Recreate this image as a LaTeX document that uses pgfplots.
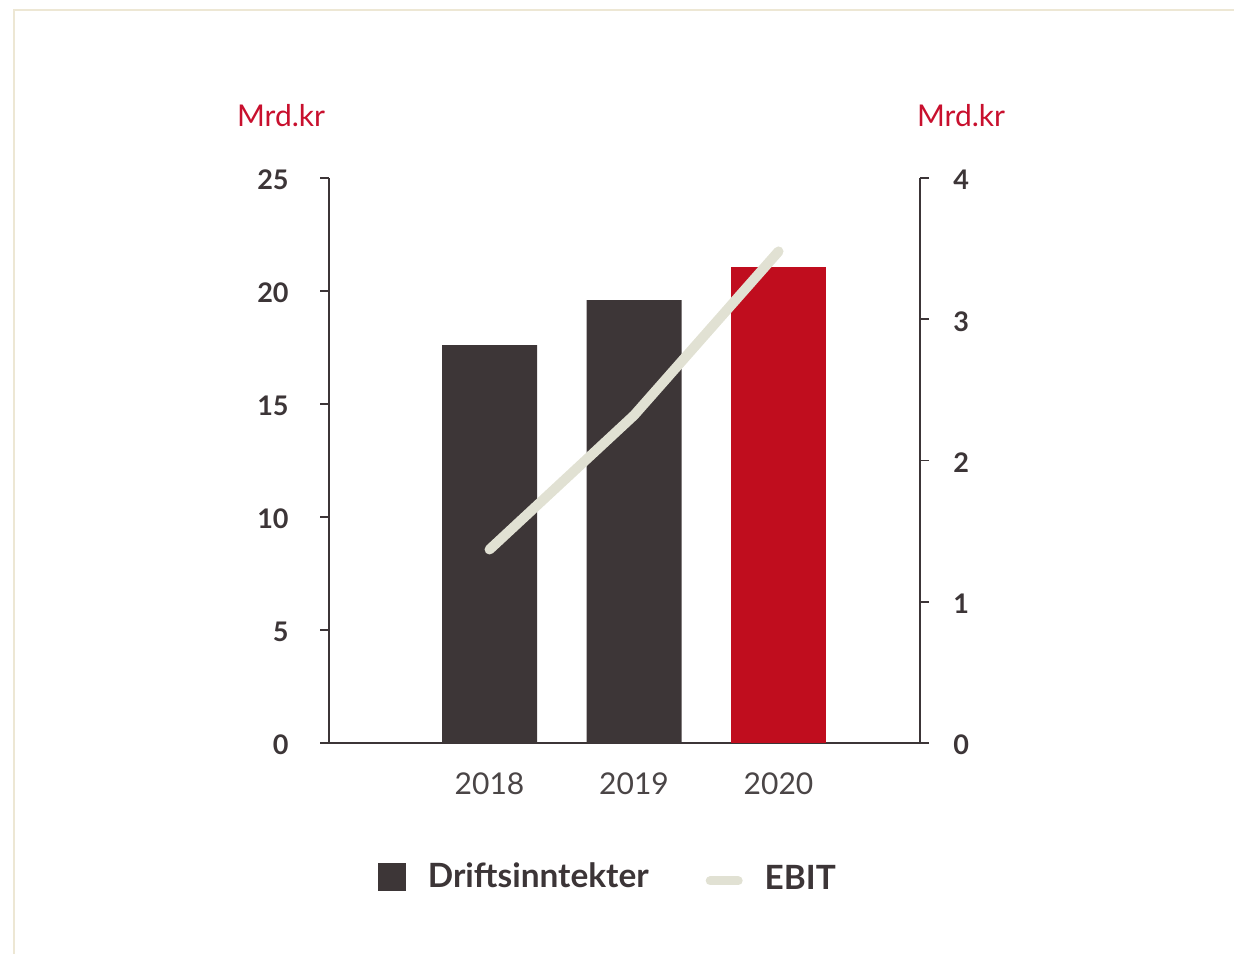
\documentclass[border=0pt]{standalone}
\usepackage{fontspec}
\setmainfont{Lato}
\usepackage{pgfplots}
\pgfplotsset{compat=1.18}
\definecolor{bardark}{HTML}{3D3637}
\definecolor{barred}{HTML}{C00D1E}
\definecolor{ebit}{HTML}{E1E1D3}
\definecolor{txt}{HTML}{3C3537}
\definecolor{yeartxt}{HTML}{4A4546}
\definecolor{lbl}{HTML}{C8102E}
\definecolor{framec}{HTML}{EDE7D4}
\begin{document}
\begin{tikzpicture}
\path[use as bounding box] (0,0) rectangle (617pt,477pt);
\draw[framec, line width=1.3pt] (7pt,0) -- (7pt,472pt) -- (617pt,472pt);
\pgfplotsset{common/.style={
  scale only axis, width=295.5pt, height=282.5pt,
  at={(164.5pt,105.5pt)}, anchor=south west,
  xmin=-1.111, xmax=2.979,
  axis line style={txt, line width=0.8pt},
  tick style={txt, line width=0.8pt},
  tick align=outside, major tick length=4.5pt,
  /pgf/number format/assume math mode=true,
}}
\begin{axis}[common,
  ymin=0, ymax=25, ytick={0,5,...,25},
  axis x line*=bottom, axis y line*=left,
  xtick={0,1,2}, xticklabels={2018,2019,2020},
  x tick style={draw=none},
  yticklabel style={font=\fontsize{13.5}{13.5}\selectfont\bfseries, text=txt, anchor=east, inner sep=0pt, xshift=-15.5pt, yshift=-1pt},
  xticklabel style={font=\fontsize{15}{15}\selectfont, text=yeartxt, anchor=north, inner sep=0pt, yshift=-10pt},
]
\addplot[ybar, bar width=47.5pt, bar shift=0pt, fill=bardark, draw=none] coordinates {(0,17.6) (1,19.6)};
\addplot[ybar, bar width=47.5pt, bar shift=0pt, fill=barred, draw=none] coordinates {(2,21.05)};
\end{axis}
\begin{axis}[common,
  ymin=0, ymax=4, ytick={0,1,2,3,4},
  axis y line*=right, axis x line=none,
  yticklabel style={font=\fontsize{13.5}{13.5}\selectfont\bfseries, text=txt, anchor=west, inner sep=0pt, xshift=12pt, yshift=-1pt},
  legend columns=2,
  legend style={draw=none, fill=none, inner sep=0pt, at={(0.083,-0.237)}, anchor=west,
    font=\fontsize{16.7}{16.7}\selectfont\bfseries, text=txt,
    /tikz/every even column/.append style={column sep=26.5pt}},
  legend cell align=left,
]
\addlegendimage{legend image code/.code={\fill[bardark] (0pt,-6.75pt) rectangle (13.5pt,6.75pt); \path[draw=none,fill=none] (0pt,0pt) -- (22.5pt,0pt);}}
\addlegendentry{Driftsinntekter}
\addplot[ebit, line width=5pt, line cap=round, line join=round,
  legend image code/.code={\draw[ebit, line width=4.5pt, line cap=round] (2.25pt,-2pt) -- (16.25pt,-2pt); \path[draw=none,fill=none] (0pt,0pt) -- (27.5pt,0pt);}]
  coordinates {(0,1.37) (1,2.32) (2,3.48)};
\addlegendentry{\raisebox{-2.5pt}{EBIT}}
\end{axis}
\node[lbl, anchor=base, font=\fontsize{15}{15}\selectfont] at (140.5pt,413.5pt) {Mrd.kr};
\node[lbl, anchor=base, font=\fontsize{15}{15}\selectfont] at (480.5pt,413.5pt) {Mrd.kr};
\end{tikzpicture}
\end{document}
